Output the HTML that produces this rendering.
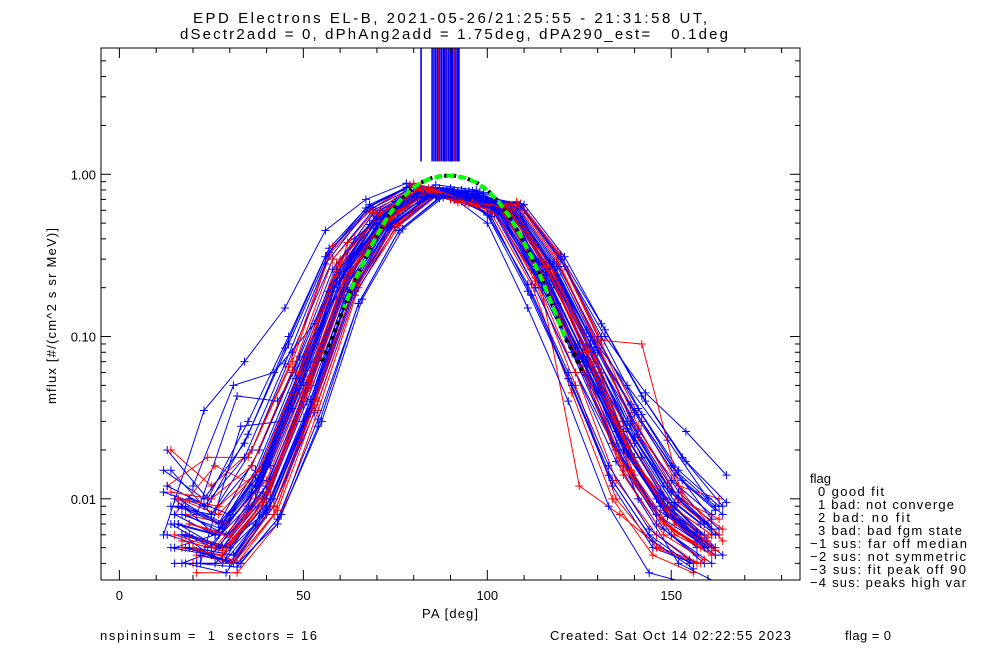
<!DOCTYPE html>
<html><head><meta charset="utf-8">
<style>
html,body{margin:0;padding:0;background:#fff;}
svg{display:block;font-family:"Liberation Sans",sans-serif;}
text{white-space:pre;}
</style></head>
<body>
<svg id="chart" width="1000" height="650" viewBox="0 0 1000 650" xmlns="http://www.w3.org/2000/svg" xml:space="preserve">
<text x="193" y="23" font-size="15" textLength="514" lengthAdjust="spacing">EPD Electrons EL-B, 2021-05-26/21:25:55 - 21:31:58 UT,</text>
<text x="180" y="39" font-size="15" textLength="548" lengthAdjust="spacing">dSectr2add = 0, dPhAng2add = 1.75deg, dPA290_est=   0.1deg</text>
<g id="plot"></g>
<g id="axes"></g>
<text x="422" y="618" font-size="13" textLength="56" lengthAdjust="spacing">PA [deg]</text>
<text x="0" y="0" font-size="13" text-anchor="middle" transform="translate(56,316) rotate(-90)" textLength="176" lengthAdjust="spacing">mflux [#/(cm^2 s sr MeV)]</text>
<g font-size="13">
<text x="810" y="483">flag</text>
<text x="818" y="496" textLength="66" lengthAdjust="spacing">0 good fit</text>
<text x="818" y="509" textLength="136" lengthAdjust="spacing">1 bad: not converge</text>
<text x="818" y="522" textLength="92" lengthAdjust="spacing">2 bad: no fit</text>
<text x="818" y="535" textLength="144" lengthAdjust="spacing">3 bad: bad fgm state</text>
<text x="810" y="548" textLength="157" lengthAdjust="spacing">−1 sus: far off median</text>
<text x="810" y="561" textLength="156" lengthAdjust="spacing">−2 sus: not symmetric</text>
<text x="810" y="574" textLength="156" lengthAdjust="spacing">−3 sus: fit peak off 90</text>
<text x="810" y="587" textLength="156" lengthAdjust="spacing">−4 sus: peaks high var</text>
</g>
<text x="100" y="640" font-size="13" textLength="217" lengthAdjust="spacing">nspininsum =  1  sectors = 16</text>
<text x="550" y="640" font-size="13" textLength="241" lengthAdjust="spacing">Created: Sat Oct 14 02:22:55 2023</text>
<text x="845" y="640" font-size="13" textLength="46" lengthAdjust="spacing">flag = 0</text>
</svg>
<script>
const paGrid=[17,28,39,50,61,72,83,94,105,116,127,138,149,160];
const blueOffsets=[-4,-3,-2,-1,0,1,2,3,4,-5,5,-2,0,2,-3,1,3,-1,4,-4,0,2,-2,1,-5,3,-1,0,-4,-2,1,3,-3,0,2,4,-1,1,-5,5,-2,2,0,-3];
const blueSeries=[
[.020,.010,.030,.10,.35,.65,.85,.82,.55,.18,.05,.012,.005,.004],
[.015,.008,.020,.08,.30,.60,.80,.80,.60,.20,.06,.020,.008,.005],
[.010,.006,.015,.06,.25,.55,.78,.78,.58,.22,.07,.025,.010,.006],
[.007,.005,.012,.05,.22,.50,.76,.76,.62,.25,.08,.030,.012,.007],
[.006,.004,.010,.04,.20,.52,.75,.75,.60,.24,.07,.020,.009,.005],
[.009,.007,.018,.07,.28,.58,.80,.79,.57,.19,.05,.015,.006,.004],
[.005,.004,.009,.035,.18,.48,.74,.74,.63,.28,.09,.035,.015,.009],
[.012,.050,.060,.12,.40,.68,.86,.80,.52,.16,.045,.010,.004,.003],
[.008,.043,.040,.11,.33,.62,.82,.78,.55,.21,.06,.018,.007,.0045],
[.006,.035,.070,.15,.45,.70,.88,.77,.50,.15,.04,.009,.0035,.003],
[.004,.028,.030,.09,.32,.60,.79,.77,.60,.27,.10,.045,.026,.014],
[.005,.006,.011,.045,.21,.53,.77,.78,.61,.23,.075,.028,.011,.006],
[.004,.005,.008,.03,.17,.47,.73,.75,.64,.30,.11,.050,.023,.010],
[.007,.006,.013,.05,.24,.56,.79,.79,.59,.21,.065,.022,.009,.005],
[.009,.008,.016,.06,.26,.57,.80,.78,.57,.20,.06,.017,.007,.0045],
[.006,.005,.010,.04,.19,.49,.75,.76,.62,.26,.085,.032,.013,.008],
[.005,.004,.009,.038,.19,.50,.76,.76,.61,.24,.08,.027,.011,.0065],
[.010,.007,.020,.075,.29,.60,.81,.80,.58,.20,.06,.016,.0065,.004],
[.004,.004,.007,.028,.16,.45,.72,.74,.65,.31,.12,.043,.018,.009],
[.012,.009,.025,.09,.33,.63,.84,.81,.55,.18,.05,.013,.0055,.0037],
[.006,.005,.011,.042,.20,.51,.76,.77,.61,.25,.085,.030,.012,.007],
[.005,.004,.010,.036,.18,.48,.75,.75,.62,.27,.09,.034,.014,.0085],
[.008,.006,.014,.055,.24,.55,.78,.78,.59,.22,.07,.024,.0095,.0055],
[.004,.0035,.008,.032,.17,.46,.74,.75,.63,.29,.10,.038,.016,.0075],
[.015,.010,.022,.085,.31,.62,.83,.80,.56,.19,.055,.014,.006,.004],
[.005,.0045,.009,.034,.18,.47,.74,.75,.63,.28,.095,.036,.015,.009],
[.007,.006,.012,.048,.22,.53,.77,.77,.60,.23,.075,.026,.010,.006],
[.009,.007,.015,.058,.25,.56,.79,.78,.58,.21,.065,.020,.008,.005],
[.006,.005,.009,.035,.19,.49,.74,.72,.62,.26,.08,.022,.009,.006],
[.004,.004,.007,.030,.17,.46,.72,.73,.64,.29,.09,.028,.011,.007],
[.008,.006,.012,.050,.23,.54,.76,.74,.60,.24,.07,.019,.008,.005],
[.005,.0045,.010,.040,.20,.50,.73,.72,.61,.27,.085,.025,.010,.006],
[.007,.005,.011,.045,.21,.52,.75,.73,.60,.25,.075,.021,.008,.0055],
[.006,.005,.010,.038,.19,.48,.72,.71,.62,.28,.09,.027,.012,.007],
[.010,.008,.016,.062,.27,.58,.78,.74,.58,.22,.065,.018,.007,.0045],
[.004,.0038,.0075,.031,.16,.45,.71,.72,.64,.30,.10,.033,.013,.008],
[.009,.007,.014,.055,.25,.55,.77,.74,.59,.23,.07,.020,.0085,.005],
[.005,.0042,.0085,.033,.18,.47,.73,.72,.63,.28,.09,.029,.011,.0065],
[.011,.009,.018,.068,.28,.59,.79,.75,.57,.21,.06,.016,.0065,.0042],
[.0045,.004,.008,.030,.17,.46,.72,.73,.65,.31,.11,.040,.017,.0095],
[.007,.006,.012,.048,.22,.53,.75,.73,.60,.25,.078,.023,.009,.0055],
[.006,.005,.010,.041,.20,.50,.74,.72,.61,.26,.082,.024,.0095,.006],
[.008,.0065,.013,.052,.24,.55,.76,.74,.59,.24,.072,.019,.0078,.005],
[.005,.0045,.009,.036,.19,.48,.73,.72,.62,.27,.088,.026,.010,.0062]
];
const redOffsets=[-3,-1,1,3,-2,0,2,4,-4,1,-1,3,0,2,-3,4,-2,1,3,-1,0,2];
const redSeries=[
[.020,.012,.020,.07,.36,.62,.88,.70,.60,.22,.05,.010,.005,.004],
[.010,.008,.015,.06,.30,.58,.85,.68,.62,.25,.06,.015,.007,.005],
[.006,.005,.010,.05,.38,.55,.80,.66,.65,.28,.07,.018,.009,.006],
[.004,.004,.008,.04,.24,.50,.78,.65,.68,.30,.09,.025,.012,.010],
[.008,.016,.012,.055,.28,.56,.83,.69,.61,.24,.012,.008,.005,.004],
[.005,.0045,.009,.045,.22,.52,.79,.67,.63,.27,.08,.020,.008,.005],
[.007,.006,.011,.05,.26,.54,.81,.68,.60,.23,.06,.014,.006,.0045],
[.0035,.0035,.007,.035,.20,.48,.76,.64,.66,.32,.09,.030,.011,.0055],
[.012,.018,.018,.065,.32,.60,.86,.70,.58,.21,.045,.010,.0045,.0035],
[.006,.005,.010,.046,.23,.51,.80,.67,.64,.26,.09,.022,.009,.006],
[.009,.007,.014,.058,.27,.55,.82,.68,.61,.24,.07,.016,.007,.005],
[.004,.004,.008,.038,.21,.49,.77,.65,.67,.33,.10,.028,.010,.0075],
[.005,.0045,.0095,.043,.22,.51,.79,.66,.64,.28,.08,.019,.008,.0055],
[.007,.006,.012,.052,.25,.53,.81,.68,.62,.25,.072,.017,.0075,.005],
[.011,.010,.016,.062,.30,.58,.84,.69,.59,.23,.06,.013,.006,.004],
[.0045,.004,.0085,.04,.21,.50,.78,.66,.66,.30,.095,.090,.010,.0065],
[.006,.005,.010,.044,.23,.52,.80,.67,.63,.26,.08,.018,.0075,.005],
[.008,.007,.013,.054,.26,.55,.82,.68,.61,.24,.068,.015,.0065,.0045],
[.005,.0042,.009,.040,.21,.49,.78,.65,.65,.29,.088,.024,.0095,.006],
[.010,.009,.015,.060,.29,.57,.83,.69,.60,.23,.062,.014,.006,.0042],
[.0055,.0048,.0095,.042,.22,.50,.79,.66,.64,.27,.082,.021,.0085,.0058],
[.007,.0058,.012,.050,.25,.54,.81,.67,.62,.25,.074,.017,.007,.0048]
];
const spikePAs=[82,85,85.5,86,86.5,87,87.5,88,88.2,88.5,89,89.5,90,90.2,90.5,91,91.5,92,92.3];
const spikeRedPAs=[86.8,88.7,91.2];
const fitPA=[55,58,61,64,67,70,73,76,79,82,85,88,91,94,97,100,103,106,109,112,115,118,121,124,126];
const fitFlux=[.07,.10,.15,.22,.31,.42,.55,.68,.80,.89,.95,.98,.98,.95,.89,.80,.68,.55,.42,.31,.22,.15,.10,.075,.06];

const X0=101,X1=800,Y0=48,Y1=580;
const xMin=-5,xMax=185,lMin=Math.log10(0.00316),lMax=Math.log10(6);
function xs(v){return X0+(v-xMin)/(xMax-xMin)*(X1-X0);}
function ys(v){return Y1-(Math.log10(v)-lMin)/(lMax-lMin)*(Y1-Y0);}
const NS="http://www.w3.org/2000/svg";
const svg=document.getElementById('chart');
const plot=document.getElementById('plot');
const axes=document.getElementById('axes');
function mk(t,a,p){const e=document.createElementNS(NS,t);for(const k in a)e.setAttribute(k,a[k]);p.appendChild(e);return e;}
const defs=mk('defs',{},svg);
const cp=mk('clipPath',{id:'clip'},defs);
mk('rect',{x:X0,y:Y0,width:X1-X0,height:Y1-Y0},cp);
plot.setAttribute('clip-path','url(#clip)');

function drawSeries(off,vals,color,name){
  const g=mk('g',{},plot);
  
  
  const pts=vals.map((v,i)=>xs(paGrid[i]+off).toFixed(1)+','+ys(v).toFixed(1)).join(' ');
  const pl=mk('polyline',{points:pts,fill:'none',stroke:color,'stroke-width':1},g);
  
  
  vals.forEach((v,i)=>{
    const x=xs(paGrid[i]+off),y=ys(v);
    const m=mk('path',{d:`M${x-4},${y}H${x+4}M${x},${y-4}V${y+4}`,stroke:color,'stroke-width':1},g);
    
    
  });
}
const order=[];
blueSeries.forEach((s,i)=>order.push(['b',i]));
redSeries.forEach((s,i)=>order.splice(Math.min(order.length,i*3+1),0,['r',i]));
order.forEach(([c,i])=>{
  if(c==='b')drawSeries(blueOffsets[i],blueSeries[i],'#0000ff','blue-spin-'+i);
  else drawSeries(redOffsets[i],redSeries[i],'#ff0000','red-spin-'+i);
});
spikePAs.forEach((p,i)=>{
  const l=mk('line',{x1:xs(p),x2:xs(p),y1:Y0,y2:ys(1.2),stroke:'#0000ff','stroke-width':1.6},plot);
  
  
});
spikeRedPAs.forEach((p,i)=>{
  const l=mk('line',{x1:xs(p),x2:xs(p),y1:Y0,y2:ys(1.2),stroke:'#ff0000','stroke-width':1},plot);
  
  
});
const fitPts=fitPA.map((p,i)=>xs(p).toFixed(1)+','+ys(fitFlux[i]).toFixed(1)).join(' ');
const fb=mk('polyline',{points:fitPts,fill:'none',stroke:'#000','stroke-width':4,'stroke-dasharray':'4 4'},plot);


const fitPtsG=fitPA.map((p,i)=>[p,fitFlux[i]]).filter(d=>d[0]>=59&&d[0]<=121).map(d=>xs(d[0]).toFixed(1)+','+ys(d[1]).toFixed(1)).join(' ');
const fg=mk('polyline',{points:fitPtsG,fill:'none',stroke:'#00ff00','stroke-width':4,'stroke-dasharray':'8 4','stroke-dashoffset':4},plot);



mk('rect',{x:X0,y:Y0,width:X1-X0,height:Y1-Y0,fill:'none',stroke:'#000','stroke-width':1},axes);
const xTicks=[0,50,100,150];
for(let v=0;v<=180;v+=10){
  const major=v%50===0,L=major?10:5,x=xs(v);
  mk('line',{x1:x,x2:x,y1:Y1,y2:Y1-L,stroke:'#000'},axes);
  mk('line',{x1:x,x2:x,y1:Y0,y2:Y0+L,stroke:'#000'},axes);
}
xTicks.forEach(v=>{
  const t=mk('text',{x:xs(v),y:Y1+20,'font-size':13,'text-anchor':'middle'},axes);
  t.textContent=String(v);
  
  
});
const yTicks=[0.01,0.1,1];
const yLabels=['0.01','0.10','1.00'];
for(let d=-3;d<=0;d++){for(let m=1;m<=9;m++){
  const v=m*Math.pow(10,d);if(v<0.00316||v>6)continue;
  const L=m===1?10:5,y=ys(v);
  mk('line',{x1:X0,x2:X0+L,y1:y,y2:y,stroke:'#000'},axes);
  mk('line',{x1:X1,x2:X1-L,y1:y,y2:y,stroke:'#000'},axes);
}}
yTicks.forEach((v,i)=>{
  const t=mk('text',{x:X0-5,y:ys(v)+5,'font-size':13,'text-anchor':'end'},axes);
  t.textContent=yLabels[i];
  
  
});
</script>
</body></html>
